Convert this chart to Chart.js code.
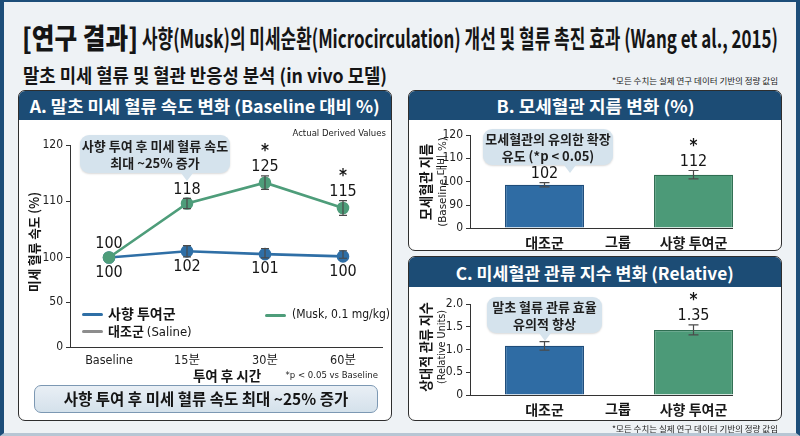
<!DOCTYPE html>
<html><head><meta charset="utf-8">
<script src="https://cdn.jsdelivr.net/npm/chart.js@4.4.1/dist/chart.umd.min.js"></script>
<style>
html,body{margin:0;padding:0;}
body{width:800px;height:436px;position:relative;overflow:hidden;background:#eef2f5;font-family:"Noto Sans CJK KR","Noto Sans",sans-serif;color:#151515;}
.abs{position:absolute;white-space:nowrap;}
#frame{position:absolute;left:0;top:0;width:800px;height:436px;box-sizing:border-box;border-left:4px solid #1d4e79;border-right:4px solid #1d4e79;border-top:2px solid #1d4e79;border-bottom:3px solid #b7c6d4;pointer-events:none;}
.panel{position:absolute;background:#fff;border:1px solid #2e2e2e;border-radius:7px;box-sizing:border-box;overflow:hidden;}
.phead{position:absolute;left:0;top:0;right:0;background:#1c4c75;color:#fff;font-weight:700;font-size:17px;display:flex;align-items:center;justify-content:center;}
.phead span{display:inline-block;white-space:nowrap;}
canvas{position:absolute;}
.callout{position:absolute;background:#d5e3ed;border-radius:9px;font-weight:700;font-size:13px;line-height:17px;text-align:center;color:#1e1e1e;box-shadow:0 1px 2px rgba(0,0,0,0.15);}
.callout .tip{position:absolute;width:0;height:0;border-left:6px solid transparent;border-right:6px solid transparent;border-top:8px solid #d5e3ed;}
.ytitle{position:absolute;white-space:nowrap;}
.narrow{font-family:"Liberation Sans Narrow","DejaVu Sans Condensed","Noto Sans CJK KR",sans-serif;}
.lg{position:absolute;height:3px;width:21px;border-radius:2px;}
</style>
</head><body>
<div id="frame"></div>

<div id="title1" class="abs" style="left:22px;top:21px;font-size:28px;font-weight:900;line-height:32px;transform-origin:left center;">[연구 결과]</div>
<div id="title2" class="abs" style="left:142px;top:22px;font-size:25px;font-weight:700;line-height:30px;transform-origin:left center;">사향(Musk)의 미세순환(Microcirculation) 개선 및 혈류 촉진 효과 (Wang et al., 2015)</div>
<div id="subtitle" class="abs" style="left:23px;top:63px;font-size:19px;font-weight:700;line-height:24px;transform-origin:left center;">말초 미세 혈류 및 혈관 반응성 분석 (in vivo 모델)</div>
<div id="note1" class="abs" style="right:22px;top:74px;font-size:8.5px;line-height:12px;color:#222;">*모든 수치는 실제 연구 데이터 기반의 정량 값임</div>

<div class="panel" style="left:18px;top:90px;width:374px;height:331px;">
  <div class="phead" style="height:29px;"><span id="hA">A. 말초 미세 혈류 속도 변화 (Baseline 대비 %)</span></div>
</div>
<div class="panel" style="left:408px;top:90px;width:374px;height:161px;">
  <div class="phead" style="height:29px;"><span id="hB">B. 모세혈관 지름 변화 (%)</span></div>
</div>
<div class="panel" style="left:408px;top:256px;width:374px;height:165px;">
  <div class="phead" style="height:30px;"><span id="hC">C. 미세혈관 관류 지수 변화 (Relative)</span></div>
</div>

<canvas id="cA" width="374" height="268" style="left:18px;top:118px;"></canvas>
<canvas id="cB" width="374" height="132" style="left:408px;top:119px;"></canvas>
<canvas id="cC" width="374" height="133" style="left:408px;top:287px;"></canvas>

<!-- Panel A extras -->
<div class="abs narrow" style="right:414px;top:127px;font-size:9.5px;line-height:12px;color:#222;">Actual Derived Values</div>
<div class="callout" style="left:80px;top:135px;width:150px;height:38px;padding-top:2px;box-sizing:border-box;">사향 투여 후 미세 혈류 속도<br>최대 ~25% 증가<div class="tip" style="left:101px;top:38px;"></div></div>
<div id="yA" class="ytitle" style="left:33px;top:242px;font-size:13px;font-weight:700;">미세 혈류 속도 (%)</div>
<div class="abs" style="left:227px;top:366px;transform:translateX(-50%);font-size:13.5px;font-weight:700;line-height:18px;">투여 후 시간</div>
<div class="abs narrow" style="right:422px;top:369px;font-size:9.5px;line-height:12px;color:#222;">*p &lt; 0.05 vs Baseline</div>
<div class="lg" style="left:82px;top:313px;background:#2f6fa6;"></div>
<div class="abs" style="left:108px;top:304px;font-size:14px;font-weight:700;line-height:19px;">사향 투여군</div>
<div class="lg" style="left:265px;top:314px;background:#4e9d7a;"></div>
<div class="abs narrow" style="left:292px;top:306px;font-size:12px;line-height:16px;">(Musk, 0.1 mg/kg)</div>
<div class="lg" style="left:82px;top:330px;background:#8d8d8d;"></div>
<div class="abs" style="left:108px;top:321px;font-size:13px;line-height:19px;"><b>대조군</b> <span class="narrow">(Saline)</span></div>
<div class="abs" style="left:34px;top:385px;width:344px;height:28px;box-sizing:border-box;border:1.3px solid #7c98b3;border-radius:7px;background:linear-gradient(#e9eff5,#d4e1eb);font-size:15.5px;font-weight:700;text-align:center;line-height:25px;">사향 투여 후 미세 혈류 속도 최대 ~25% 증가</div>

<!-- Panel B extras -->
<div class="callout" style="left:483px;top:129px;width:130px;height:36px;padding-top:1px;box-sizing:border-box;">모세혈관의 유의한 확장<br>유도 (*p &lt; 0.05)<div class="tip" style="left:81px;top:36px;"></div></div>
<div id="yB1" class="ytitle" style="left:425px;top:182px;font-size:14px;font-weight:700;">모세혈관 지름</div>
<div id="yB2" class="ytitle narrow" style="left:441px;top:182px;font-size:11px;">(Baseline 대비 %)</div>
<div class="abs" style="left:618px;top:232px;transform:translateX(-50%);font-size:14px;font-weight:700;line-height:19px;">그룹</div>

<!-- Panel C extras -->
<div class="callout" style="left:487px;top:297px;width:115px;height:36px;padding-top:1px;box-sizing:border-box;">말초 혈류 관류 효율<br>유의적 향상<div class="tip" style="left:52px;top:36px;"></div></div>
<div id="yC1" class="ytitle" style="left:425px;top:347px;font-size:14px;font-weight:700;">상대적 관류 지수</div>
<div id="yC2" class="ytitle narrow" style="left:441px;top:347px;font-size:11px;">(Relative Units)</div>
<div class="abs" style="left:618px;top:399px;transform:translateX(-50%);font-size:14px;font-weight:700;line-height:19px;">그룹</div>
<div class="abs" style="right:22px;top:422px;font-size:8.5px;line-height:12px;color:#222;">*모든 수치는 실제 연구 데이터 기반의 정량 값임</div>

<script>
// ---------- DATA ----------
const timeLabels = ['Baseline', '15분', '30분', '60분'];
const muskVelocity = [100, 109.6, 113.3, 108.8];
const muskVelocityErr = [0, 0.9, 1.2, 1.3];
const muskVelocityText = ['100', '118', '125', '115'];
const muskVelocityStar = ['', '', '*', '*'];
const salineVelocity = [100, 101.1, 100.6, 100.2];
const salineVelocityErr = [0, 1.0, 1.0, 1.0];
const salineVelocityText = ['100', '102', '101', '100'];
const velocityTicks = [0, 50, 100, 110, 120];

const groupLabels = ['대조군', '사향 투여군'];
const diameterValues = [98.7, 103.0];
const diameterErr = [0.9, 1.8];
const diameterText = ['102', '112'];
const diameterStar = ['', '*'];
const diameterTicks = [0, 90, 100, 110, 120];

const perfusionValues = [1.08, 1.43];
const perfusionErr = [0.095, 0.11];
const perfusionText = ['', '1.35'];
const perfusionStar = ['', '*'];
const perfusionTicks = [0, 0.5, 1.0, 1.5, 2.0];

// ---------- fit text widths ----------
function fitW(id, w){const el=document.getElementById(id);const cw=el.getBoundingClientRect().width;el.style.transform='scaleX('+(w/cw)+')';}
function fitRot(id, len){const el=document.getElementById(id);const cw=el.offsetWidth;el.style.transform='translate(-50%,-50%) rotate(-90deg) scaleX('+(len/cw)+')';}
fitW('title1', 116); fitW('title2', 636); fitW('subtitle', 364);
fitW('hA', 350); fitW('hB', 198); fitW('hC', 278);
fitRot('yA', 100); fitRot('yB1', 76); fitRot('yB2', 90); fitRot('yC1', 90); fitRot('yC2', 74);

// ---------- broken (piecewise) linear scale ----------
class BrokenScale extends Chart.LinearScale {
  buildTicks(){ return this.options.tickValues.map(v => ({value: v})); }
  _dec(v){
    const bv = this.options.breakValues, bf = this.options.breakFractions;
    if (v <= bv[0]) return bf[0];
    for (let i = 1; i < bv.length; i++) {
      if (v <= bv[i]) return bf[i-1] + (v - bv[i-1]) / (bv[i] - bv[i-1]) * (bf[i] - bf[i-1]);
    }
    const n = bv.length - 1;
    return bf[n] + (v - bv[n]) / (bv[n] - bv[n-1]) * (bf[n] - bf[n-1]);
  }
  getPixelForValue(v){ return v === null || isNaN(v) ? NaN : this.getPixelForDecimal(this._dec(v)); }
  getValueForPixel(p){
    const d = this.getDecimalForPixel(p);
    const bv = this.options.breakValues, bf = this.options.breakFractions;
    for (let i = 1; i < bv.length; i++) {
      if (d <= bf[i]) return bv[i-1] + (d - bf[i-1]) / (bf[i] - bf[i-1]) * (bv[i] - bv[i-1]);
    }
    return bv[bv.length-1];
  }
}
BrokenScale.id = 'broken';
BrokenScale.defaults = {};
Chart.register(BrokenScale);

// ---------- marks plugin: error bars, value labels, stars ----------
const marksPlugin = {
  id: 'marks',
  afterDatasetsDraw(chart, args, opts) {
    const ctx = chart.ctx, ys = chart.scales.y;
    ctx.save();
    if (opts.baseline) {
      const meta = chart.getDatasetMeta(0);
      const last = meta.data[meta.data.length - 1];
      ctx.strokeStyle = '#333'; ctx.lineWidth = 1;
      ctx.beginPath(); ctx.moveTo(chart.chartArea.left, chart.chartArea.bottom + 0.5);
      ctx.lineTo(last.x + last.width / 2, chart.chartArea.bottom + 0.5); ctx.stroke();
    }
    (opts.sets || []).forEach((cfg, di) => {
      if (!cfg) return;
      const ds = chart.data.datasets[di];
      const meta = chart.getDatasetMeta(di);
      meta.data.forEach((el, i) => {
        const v = ds.data[i], e = cfg.err ? cfg.err[i] : 0;
        const x = el.x, y = ys.getPixelForValue(v);
        const yT = ys.getPixelForValue(v + e), yB = ys.getPixelForValue(v - e);
        if (e > 0) {
          ctx.strokeStyle = '#4a4a4a'; ctx.lineWidth = 1.2;
          ctx.beginPath();
          ctx.moveTo(x, yT); ctx.lineTo(x, yB);
          ctx.moveTo(x - cfg.cap, yT); ctx.lineTo(x + cfg.cap, yT);
          ctx.moveTo(x - cfg.cap, yB); ctx.lineTo(x + cfg.cap, yB);
          ctx.stroke();
        }
        ctx.fillStyle = '#161616'; ctx.textAlign = 'center'; ctx.textBaseline = 'middle';
        ctx.font = opts.font;
        const t = cfg.text ? cfg.text[i] : '';
        if (cfg.pos === 'below') {
          const b = Math.max(yB, y + (cfg.r || 0));
          if (t) ctx.fillText(t, x, b + cfg.gap);
        } else {
          const top = Math.min(yT, y - (cfg.r || 0));
          const ty = top - cfg.gap;
          if (t) ctx.fillText(t, x, ty);
          if (cfg.star && cfg.star[i]) { ctx.font = opts.starFont; ctx.fillText(cfg.star[i], x, ty - cfg.starGap); ctx.font = opts.font; }
        }
      });
    });
    ctx.restore();
  }
};

const NARROW = '"Liberation Sans Narrow","DejaVu Sans Condensed","Noto Sans CJK KR",sans-serif';
const KR = '"Noto Sans CJK KR","Noto Sans",sans-serif';

function yAxis(ticks, brk, fr, width, fmt) {
  return {
    type: brk ? 'broken' : 'linear',
    min: ticks[0], max: ticks[ticks.length - 1],
    tickValues: ticks, breakValues: brk, breakFractions: fr,
    afterBuildTicks: brk ? undefined : (s) => { s.ticks = ticks.map(v => ({value: v})); },
    afterFit: (s) => { s.width = width; },
    grid: { display: true, drawOnChartArea: false, drawTicks: true, tickLength: 4, color: '#333' },
    border: { display: true, color: '#333', width: 1 },
    ticks: { padding: 3, color: '#222', font: { family: NARROW, size: 12 }, callback: fmt || ((v) => String(v)) }
  };
}

// ---------- Chart A ----------
new Chart(document.getElementById('cA'), {
  type: 'line',
  data: {
    labels: timeLabels,
    datasets: [
      { label: '사향 투여군 (Musk, 0.1 mg/kg)', data: muskVelocity, borderColor: '#4e9d7a', backgroundColor: '#4e9d7a', borderWidth: 2.6, pointRadius: 5, pointHoverRadius: 5, tension: 0 },
      { label: '대조군 (Saline)', data: salineVelocity, borderColor: '#2f6fa6', backgroundColor: '#2f6fa6', borderWidth: 2.6, pointRadius: 5, pointHoverRadius: 5, tension: 0 }
    ]
  },
  options: {
    responsive: false, animation: false,
    layout: { padding: { top: 27, right: 10, left: 0, bottom: 0 } },
    plugins: {
      legend: { display: false }, tooltip: { enabled: false },
      marks: {
        font: '16px ' + NARROW, starFont: 'bold 17px ' + NARROW,
        sets: [
          { err: muskVelocityErr, text: muskVelocityText, star: muskVelocityStar, pos: 'above', gap: 9, starGap: 15, cap: 4, r: 5 },
          { err: salineVelocityErr, text: salineVelocityText, pos: 'below', gap: 10, cap: 4, r: 5 }
        ]
      }
    },
    scales: {
      x: {
        type: 'category', offset: true,
        afterFit: (s) => { s.height = 39; },
        grid: { display: false, drawTicks: false },
        border: { display: true, color: '#333', width: 1 },
        ticks: { padding: 6, color: '#222', font: { family: NARROW, size: 12.5 } }
      },
      y: yAxis(velocityTicks, [0, 100, 120], [0, 0.443, 1], 52)
    }
  },
  plugins: [marksPlugin]
});

// ---------- Charts B and C ----------
function barChart(id, values, err, text, star, ticks, brk, fr, top, xh, fmt) {
  return new Chart(document.getElementById(id), {
    type: 'bar',
    data: {
      labels: groupLabels,
      datasets: [{
        data: values,
        backgroundColor: ['#2f6ca4', '#4c9a78'],
        borderColor: ['#1e4c7a', '#2f6e52'],
        borderWidth: 1.2,
        categoryPercentage: 1, barPercentage: 0.53
      }]
    },
    options: {
      responsive: false, animation: false,
      layout: { padding: { top: top, right: 14, left: 0, bottom: 0 } },
      plugins: {
        legend: { display: false }, tooltip: { enabled: false },
        marks: {
          baseline: true, font: '16px ' + NARROW, starFont: 'bold 17px ' + NARROW,
          sets: [{ err: err, text: text, star: star, pos: 'above', gap: 9, starGap: 15, cap: 5, r: 0 }]
        }
      },
      scales: {
        x: {
          type: 'category', offset: true,
          afterFit: (s) => { s.height = xh; },
          grid: { display: false, drawTicks: false },
          border: { display: false },
          ticks: { padding: 6, color: '#1a1a1a', font: { family: KR, size: 14, weight: 'bold' } }
        },
        y: yAxis(ticks, brk, fr, 62, fmt)
      }
    },
    plugins: [marksPlugin]
  });
}
barChart('cB', diameterValues, diameterErr, diameterText, diameterStar, diameterTicks, [0, 90, 120], [0, 0.247, 1], 16, 23);
barChart('cC', perfusionValues, perfusionErr, perfusionText, perfusionStar, perfusionTicks, null, null, 17, 25, (v) => v === 0 ? '0' : v.toFixed(1));
</script>
</body></html>
